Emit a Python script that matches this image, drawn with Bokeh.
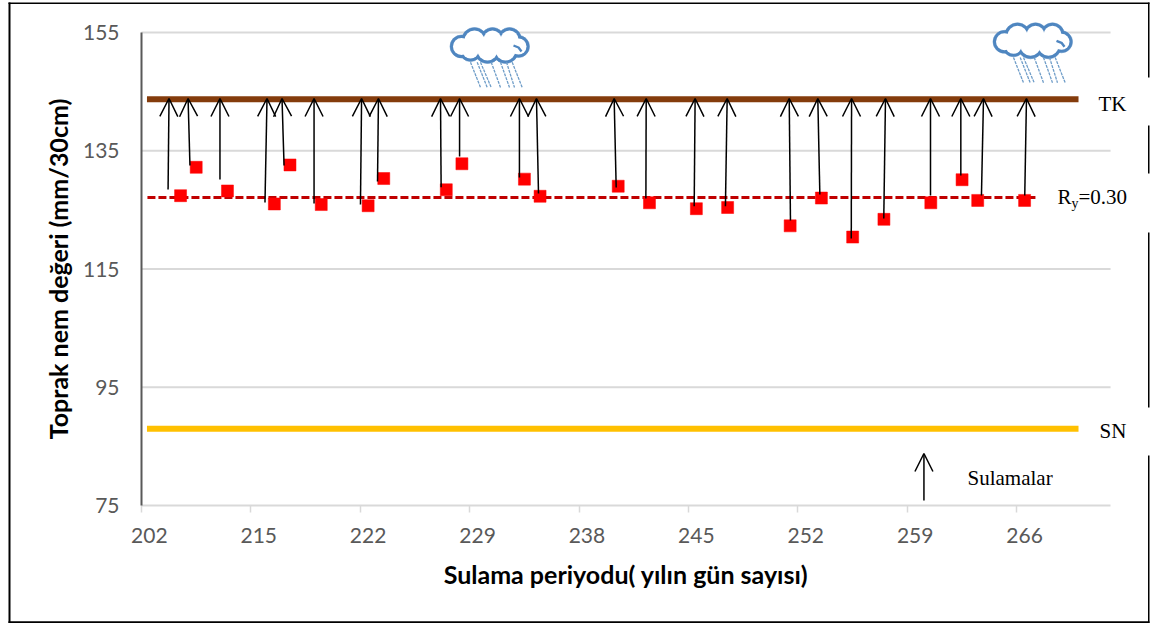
from bokeh.plotting import figure
from bokeh.models import Range1d, FixedTicker, Arrow, OpenHead, ColumnDataSource
from bokeh.core.properties import value
from bokeh.embed import file_html
from bokeh.resources import INLINE

# ---- data ----
X_TICK_LABELS = ["202", "215", "222", "229", "238", "245", "252", "259", "266"]
X_TICK_POS = [0, 7, 14, 21, 28, 35, 42, 49, 56]
X_TICK_MARKS = [-0.5, 6.5, 13.5, 20.5, 27.5, 34.5, 41.5, 48.5, 55.5]
Y_TICKS = [75, 95, 115, 135, 155]

POINT_X = [2, 3, 5, 8, 9, 11, 14, 15, 19, 20, 24, 25, 30, 32, 35, 37, 41, 43, 45, 47, 50, 52, 53, 56]
POINT_Y = [127.4, 132.2, 128.2, 126.0, 132.6, 125.9, 125.7, 130.3, 128.4, 132.8, 130.2, 127.3,
           129.0, 126.2, 125.2, 125.4, 122.3, 127.0, 120.4, 123.4, 126.2, 130.1, 126.6, 126.6]

TK_X = [-0.15, 59.45]
TK_Y = [143.7, 143.7]
SN_X = [-0.15, 59.45]
SN_Y = [88.0, 88.0]
RY_X = [-0.12, 56.75]
RY_Y = [127.1, 127.1]

ARROW_X0 = [1.20, 2.60, 4.52, 7.40, 8.62, 10.54, 13.51, 14.60, 18.67, 19.85, 23.68, 24.90,
            29.87, 31.77, 34.86, 36.86, 41.02, 42.90, 44.91, 46.99, 49.98, 51.92, 53.24, 56.01, 49.56]
ARROW_X1 = [1.26, 2.48, 4.52, 7.53, 8.49, 10.54, 13.58, 14.66, 18.63, 19.85, 23.68, 24.77,
            29.74, 31.79, 34.92, 36.97, 40.94, 42.77, 44.93, 47.10, 49.98, 51.92, 53.37, 56.12, 49.56]
ARROW_Y0 = [128.45, 132.5, 130.14, 126.25, 132.5, 126.08, 125.9, 129.8, 128.83, 134.03, 130.48, 127.77,
            128.78, 126.92, 125.62, 125.62, 123.2, 127.6, 120.16, 123.54, 127.43, 130.81, 127.43, 127.43, 75.85]
ARROW_Y1 = [143.84] * 24 + [83.8]

# ---- layout helpers (pixel position on the page -> plot units, for decorations only) ----
FRAME_L, FRAME_B, DX, DY = 141.0, 505.0, 15.63, 5.9125
def PX(px):
    return (px - FRAME_L) / DX - 0.5
def PY(py):
    return 75 + (FRAME_B - py) / DY

W, H = 1150, 626
p = figure(width=W, height=H, output_backend="svg", toolbar_location=None,
           x_range=Range1d(PX(0), PX(W)), y_range=Range1d(PY(H), PY(0)),
           min_border=0, outline_line_color=None, margin=0, background_fill_color="white")
p.grid.visible = False

GREY = "#595959"
TICK_FONT = "Lato"
xa = p.xaxis[0]
xa.fixed_location = 75
xa.ticker = FixedTicker(ticks=X_TICK_POS, minor_ticks=X_TICK_MARKS)
xa.major_label_overrides = dict(zip(X_TICK_POS, X_TICK_LABELS))
xa.bounds = (-0.5, 61.5)
xa.axis_line_color = "#d9d9d9"
xa.axis_line_width = 2
xa.major_tick_line_color = None
xa.major_tick_out = 0
xa.major_tick_in = 0
xa.minor_tick_line_color = "#d9d9d9"
xa.minor_tick_line_width = 1.5
xa.minor_tick_out = 7
xa.minor_tick_in = 0
xa.major_label_text_font = TICK_FONT
xa.major_label_text_font_size = "21px"
xa.major_label_text_color = GREY
xa.major_label_standoff = 15
xa.axis_label = "Sulama periyodu( yılın gün sayısı)"
xa.axis_label_text_font = "Lato"
xa.axis_label_text_font_style = "bold"
xa.axis_label_text_font_size = "25px"
xa.axis_label_text_color = "black"
xa.axis_label_standoff = 13

ya = p.yaxis[0]
ya.fixed_location = -0.5
ya.ticker = FixedTicker(ticks=Y_TICKS)
ya.bounds = (75, 155)
ya.axis_line_color = GREY
ya.axis_line_width = 2
ya.major_tick_line_color = None
ya.major_tick_out = 0
ya.major_tick_in = 0
ya.minor_tick_line_color = None
ya.major_label_text_font = TICK_FONT
ya.major_label_text_font_size = "21px"
ya.major_label_text_color = GREY
ya.major_label_standoff = 22
ya.axis_label = "Toprak nem değeri (mm/30cm)"
ya.axis_label_text_font = "Lato"
ya.axis_label_text_font_style = "bold"
ya.axis_label_text_font_size = "25px"
ya.axis_label_text_color = "black"
ya.axis_label_standoff = 7

# gridlines
p.segment(x0=[-0.5] * 4, x1=[61.5] * 4, y0=Y_TICKS[1:], y1=Y_TICKS[1:],
          line_color="#d9d9d9", line_width=2, level="underlay")

# horizontal reference lines
p.line(TK_X, TK_Y, line_color="#843c0c", line_width=6)
p.line(SN_X, SN_Y, line_color="#ffc000", line_width=6)
p.line(RY_X, RY_Y, line_color="#c00000", line_width=3, line_dash="8 3")

# measured points
p.scatter(POINT_X, POINT_Y, marker="square", size=12, fill_color="#ff0000", line_color="#ff0000", line_width=0.5)

# irrigation arrows
p.add_layout(Arrow(end=OpenHead(size=18, line_color="black", line_width=1.5), line_color="black", line_width=1.5,
                   x_start="x0", y_start="y0", x_end="x1", y_end="y1",
                   source=ColumnDataSource(dict(x0=ARROW_X0, y0=ARROW_Y0, x1=ARROW_X1, y1=ARROW_Y1))))

# rain clouds
CLOUD = [(461, 46, 11.5), (474, 40, 13), (492, 39, 12), (509, 39, 12),
         (518, 46, 11), (505, 50, 13), (487, 50, 13), (470, 50, 11)]
RAIN_TOP = [470, 476.7, 480, 490.7, 500, 506, 511.7]
RAIN_BOT = [480, 486.7, 490.7, 500, 509, 514, 521.7]
BLUE = "#4f86c0"
for ox, oy in [(0, 0), (543, -4.7)]:
    cx = [PX(c[0] + ox) for c in CLOUD]
    cy = [PY(c[1] + oy) for c in CLOUD]
    p.circle(cx, cy, radius=[c[2] for c in CLOUD], radius_units="screen",
             fill_color=BLUE, line_color=BLUE, line_width=0.5)
    p.circle(cx, cy, radius=[c[2] - 3 for c in CLOUD], radius_units="screen",
             fill_color="white", line_color="white", line_width=0)
    p.line([PX(513 + ox), PX(518 + ox), PX(521 + ox)], [PY(45 + oy), PY(47 + oy), PY(51 + oy)],
           line_color=BLUE, line_width=2.4)
    p.segment([PX(t + ox) for t in RAIN_TOP], [PY(61.7 + oy)] * 7,
              [PX(b + ox) for b in RAIN_BOT], [PY(87 + oy)] * 7,
              line_color="#6f9dc8", line_width=1.3, line_dash="3 1")

# text labels inside the plot
def note(txt, px, py, size="21px"):
    p.text([PX(px)], [PY(py)], text=[txt], text_font=value("Liberation Serif"), text_font_size=size,
           text_color="black", text_align="left", text_baseline="alphabetic")
note("TK", 1098, 103)
note("SN", 1099, 430)
note("Sulamalar", 967, 477)
note("R", 1057, 196)
note("y", 1071, 203, "14px")
note("=0.30", 1078, 196)

# picture frame
def bar(l, r, t, b):
    p.quad(left=[PX(l)], right=[PX(r)], top=[PY(t)], bottom=[PY(b)], fill_color="black", line_color=None)
bar(8, 10, 2, 622.5)
bar(8, 1149, 2, 3.5)
bar(8, 1149, 620.8, 622.5)
for t, b in [(2, 77), (125, 173), (232, 407), (455, 622.5)]:
    bar(1147.5, 1149, t, b)

open("out.html", "w").write(file_html(p, INLINE))
